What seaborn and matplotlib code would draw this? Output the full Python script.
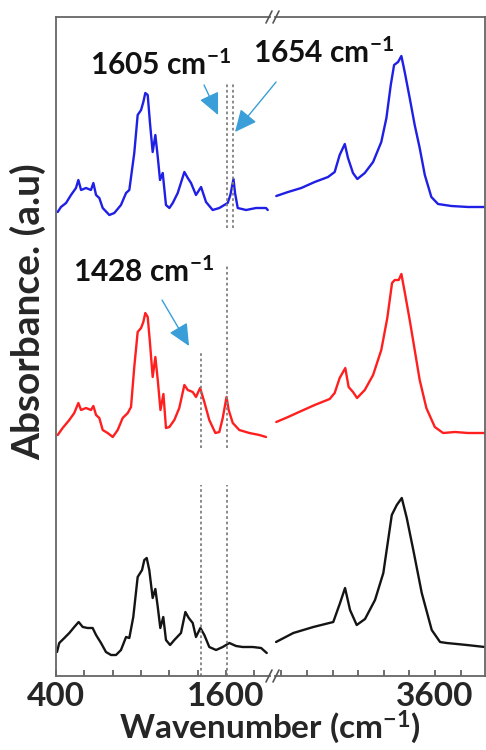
import matplotlib
matplotlib.use("Agg")
import matplotlib.pyplot as plt
import seaborn as sns
import pandas as pd
from matplotlib.lines import Line2D

sns.set_style("white")
plt.rcParams['font.family'] = ['Lato', 'DejaVu Sans']
plt.rcParams['font.weight'] = 'bold'
plt.rcParams['mathtext.fontset'] = 'custom'
plt.rcParams['mathtext.rm'] = 'Lato:bold'
plt.rcParams['mathtext.bf'] = 'Lato:bold'
plt.rcParams['mathtext.default'] = 'rm'

# ---------------- data (absorbance, a.u., stacked with offsets) ----------------
blue_low_wn = [412, 435, 471, 506, 541, 558, 577, 612, 647, 664, 683, 706, 730, 777, 812, 859, 895, 918,
               953, 977, 1001, 1017, 1031, 1048, 1064, 1083, 1102, 1119, 1135, 1154, 1177, 1201, 1225,
               1260, 1307, 1331, 1354, 1389, 1425, 1460, 1507, 1554, 1613, 1632, 1654, 1665, 1684, 1743,
               1813, 1884, 1896]
blue_low_ab = [4.64, 4.69, 4.73, 4.81, 4.88, 4.96, 4.86, 4.88, 4.86, 4.93, 4.81, 4.78, 4.68, 4.61, 4.63,
               4.71, 4.83, 4.86, 5.23, 5.61, 5.66, 5.74, 5.83, 5.81, 5.53, 5.24, 5.41, 5.19, 4.96, 5.03,
               4.71, 4.68, 4.73, 4.83, 5.04, 4.98, 4.93, 4.81, 4.89, 4.74, 4.66, 4.68, 4.73, 4.81, 4.97,
               4.83, 4.68, 4.66, 4.68, 4.68, 4.66]

red_low_wn = [412, 447, 494, 529, 558, 577, 612, 647, 664, 683, 706, 730, 765, 801, 836, 871, 907, 930,
              953, 977, 1001, 1017, 1031, 1048, 1064, 1083, 1102, 1119, 1138, 1159, 1177, 1201, 1236,
              1271, 1307, 1331, 1366, 1389, 1418, 1448, 1483, 1526, 1554, 1578, 1605, 1620, 1649, 1695,
              1766, 1837, 1884]
red_low_ab = [2.41, 2.48, 2.56, 2.63, 2.73, 2.66, 2.68, 2.66, 2.70, 2.61, 2.58, 2.46, 2.43, 2.39, 2.46,
              2.58, 2.63, 2.69, 3.09, 3.44, 3.48, 3.54, 3.63, 3.59, 3.33, 2.99, 3.19, 2.96, 2.66, 2.82,
              2.48, 2.49, 2.56, 2.68, 2.91, 2.86, 2.84, 2.79, 2.88, 2.74, 2.56, 2.43, 2.44, 2.58, 2.79,
              2.66, 2.53, 2.46, 2.43, 2.41, 2.39]

black_low_wn = [407, 423, 459, 494, 529, 560, 589, 624, 659, 683, 718, 753, 789, 824, 859, 895, 918, 946,
                977, 1008, 1024, 1041, 1059, 1083, 1102, 1119, 1137, 1158, 1177, 1206, 1236, 1283, 1314,
                1338, 1366, 1389, 1420, 1448, 1483, 1531, 1578, 1625, 1672, 1719, 1790, 1849, 1889]
black_low_ab = [0.24, 0.33, 0.38, 0.43, 0.49, 0.54, 0.49, 0.48, 0.48, 0.41, 0.33, 0.24, 0.21, 0.21, 0.26,
                0.39, 0.38, 0.59, 0.99, 1.06, 1.16, 1.18, 1.06, 0.78, 0.87, 0.69, 0.48, 0.59, 0.36, 0.31,
                0.36, 0.43, 0.64, 0.58, 0.53, 0.39, 0.48, 0.41, 0.29, 0.26, 0.29, 0.33, 0.30, 0.29, 0.29,
                0.28, 0.23]

blue_high_wn = [2360, 2452, 2555, 2660, 2764, 2816, 2855, 2895, 2920, 2959, 2993, 3051, 3116, 3180, 3220,
                3254, 3280, 3311, 3337, 3363, 3402, 3441, 3480, 3520, 3571, 3623, 3727, 3858, 3988]
blue_high_ab = [4.80, 4.84, 4.88, 4.94, 4.99, 5.04, 5.21, 5.32, 5.18, 5.03, 4.97, 5.03, 5.14, 5.34, 5.58,
                5.91, 6.11, 6.14, 6.20, 6.04, 5.78, 5.51, 5.28, 5.01, 4.79, 4.72, 4.70, 4.69, 4.69]

red_high_wn = [2360, 2452, 2555, 2660, 2777, 2816, 2855, 2899, 2925, 2959, 2991, 3051, 3116, 3180, 3227,
               3264, 3285, 3316, 3337, 3363, 3402, 3441, 3480, 3532, 3598, 3663, 3754, 3858, 3988]
red_high_ab = [2.54, 2.59, 2.65, 2.71, 2.77, 2.83, 2.98, 3.08, 2.89, 2.84, 2.78, 2.86, 3.01, 3.26, 3.58,
               3.93, 3.96, 3.96, 4.02, 3.84, 3.56, 3.26, 2.96, 2.68, 2.49, 2.43, 2.44, 2.43, 2.43]

black_high_wn = [2358, 2493, 2649, 2805, 2858, 2897, 2936, 2988, 3053, 3131, 3196, 3262, 3301, 3340, 3379,
                 3430, 3496, 3574, 3639, 3691, 3848, 3988]
black_high_ab = [0.34, 0.43, 0.49, 0.54, 0.73, 0.88, 0.66, 0.51, 0.57, 0.76, 1.03, 1.61, 1.71, 1.78, 1.58,
                 1.26, 0.83, 0.46, 0.34, 0.33, 0.31, 0.29]

# marker lines: (wavenumber, ymin, ymax)
marker_lines = [(1605, 4.48, 5.94), (1654, 4.48, 5.94), (1605, 2.28, 4.11), (1605, 0.0, 1.91),
                (1428, 2.28, 3.23), (1428, 0.0, 1.91)]

# annotations: (text, text x, text y, arrow tail x, tail y, tip x, tip y)
annotations = [("1605 cm$^{-1}$", 640, 6.01, 1446, 5.91, 1545, 5.61),
               ("1654 cm$^{-1}$", 1792, 6.13, 1955, 5.94, 1665, 5.44),
               ("1428 cm$^{-1}$", 520, 3.94, 1149, 3.76, 1340, 3.30)]

low_ticks = [400, 600, 800, 1000, 1200, 1400, 1600, 1800]
low_labels = ['400', '', '', '', '', '', '1600', '']
high_ticks = [2400, 2600, 2800, 3000, 3200, 3400, 3600, 3800]
high_labels = ['', '', '', '', '', '', '3600', '']

colors = {'blue': '#1f1fe6', 'red': '#ff1f1f', 'black': '#141414'}

# ---------------- figure ----------------
W, H = 486, 750
fig = plt.figure(figsize=(W / 100, H / 100), dpi=100)
axL = fig.add_axes([56 / W, 74 / H, (270 - 56) / W, 659 / H])
axR = fig.add_axes([275 / W, 74 / H, (485 - 275) / W, 659 / H])
axR.patch.set_visible(False)
axL.patch.set_visible(False)

low = pd.concat([
    pd.DataFrame({'wn': blue_low_wn, 'ab': blue_low_ab, 's': 'blue'}),
    pd.DataFrame({'wn': red_low_wn, 'ab': red_low_ab, 's': 'red'}),
    pd.DataFrame({'wn': black_low_wn, 'ab': black_low_ab, 's': 'black'}),
])
high = pd.concat([
    pd.DataFrame({'wn': blue_high_wn, 'ab': blue_high_ab, 's': 'blue'}),
    pd.DataFrame({'wn': red_high_wn, 'ab': red_high_ab, 's': 'red'}),
    pd.DataFrame({'wn': black_high_wn, 'ab': black_high_ab, 's': 'black'}),
])

for ax, df in ((axL, low), (axR, high)):
    sns.lineplot(data=df, x='wn', y='ab', hue='s', palette=colors, sort=False,
                 estimator=None, lw=1.7, legend=False, ax=ax)
    ax.set_ylim(0, 6.59)
    ax.set_yticks([])
    ax.set_xlabel('')
    ax.set_ylabel('')
    ax.tick_params(axis='x', direction='in', length=4, width=1.2, color='#555555',
                   labelsize=24, pad=4, bottom=True)
    for sp in ax.spines.values():
        sp.set_color('#666666')
        sp.set_linewidth(1.3)

axL.set_xlim(400, 1912)
axR.set_xlim(2350, 3990)
axL.spines['right'].set_visible(False)
axR.spines['left'].set_visible(False)
axL.set_xticks(low_ticks)
axL.set_xticklabels(low_labels, fontweight='bold')
axR.set_xticks(high_ticks)
axR.set_xticklabels(high_labels, fontweight='bold')

for x, y0, y1 in marker_lines:
    axL.vlines(x, y0, y1, colors='#808080', linestyles=(0, (1.5, 1.5)), lw=1.3)

for txt, tx, ty, ax0, ay0, ax1, ay1 in annotations:
    axL.text(tx, ty, txt, fontsize=21.5, fontweight='bold', ha='left', va='baseline',
             clip_on=False, color='#111111', zorder=10)
    axL.annotate('', xy=(ax1, ay1), xytext=(ax0, ay0), annotation_clip=False,
                 arrowprops=dict(arrowstyle='-|>,head_length=0.75,head_width=0.35',
                                 color='#3a9fd9', lw=1.0, mutation_scale=18,
                                 shrinkA=0, shrinkB=0))

# axis break marks
for yc in (676, 17):
    for xc in (269, 276):
        fig.add_artist(Line2D([(xc - 3) / W, (xc + 3) / W],
                              [1 - (yc + 6) / H, 1 - (yc - 6) / H],
                              color='#555555', lw=1.2))

fig.text(270 / W, 1 - 739 / H, 'Wavenumber (cm$^{-1}$)', fontsize=24, fontweight='bold',
         ha='center', va='baseline')
fig.text(28 / W, 1 - 312 / H, 'Absorbance. (a.u)', fontsize=28, fontweight='bold',
         ha='center', va='center', rotation=90)

fig.savefig('out.png', dpi=100)
